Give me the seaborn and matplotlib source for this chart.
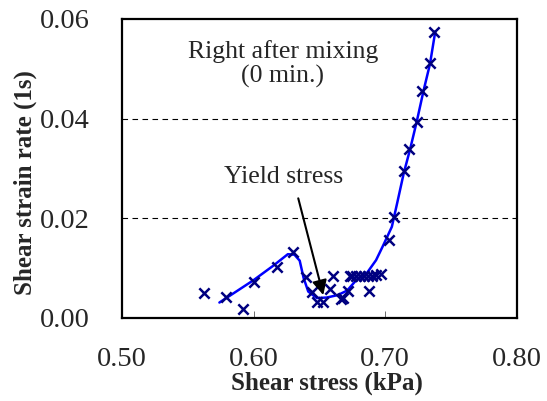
import matplotlib
matplotlib.use('Agg')
import matplotlib.pyplot as plt
import seaborn as sns
import pandas as pd

# measured points (shear stress kPa, shear strain rate 1/s)
stress = [0.562, 0.579, 0.592, 0.600, 0.618, 0.630, 0.640, 0.644, 0.648, 0.653,
          0.658, 0.660, 0.666, 0.668, 0.672, 0.673, 0.675, 0.678, 0.681, 0.684,
          0.687, 0.688, 0.690, 0.693, 0.697, 0.703, 0.707, 0.714, 0.718, 0.724,
          0.728, 0.734, 0.737]
rate = [0.0050, 0.0043, 0.0019, 0.0073, 0.0102, 0.0132, 0.0083, 0.0052, 0.0032, 0.0033,
        0.0058, 0.0085, 0.0038, 0.0040, 0.0054, 0.0085, 0.0085, 0.0085, 0.0085, 0.0085,
        0.0085, 0.0054, 0.0085, 0.0087, 0.0088, 0.0156, 0.0203, 0.0295, 0.0339, 0.0393,
        0.0456, 0.0512, 0.0573]

# fitted curve
fit_x = [0.574, 0.585, 0.600, 0.615, 0.626, 0.631, 0.635, 0.638, 0.6415, 0.648,
         0.6555, 0.664, 0.671, 0.678, 0.686, 0.693, 0.6985, 0.705, 0.709, 0.714,
         0.719, 0.724, 0.729, 0.734, 0.738]
fit_y = [0.0031, 0.0050, 0.0076, 0.0105, 0.0128, 0.0127, 0.0115, 0.0080, 0.0053, 0.0040,
         0.0041, 0.0046, 0.0055, 0.0076, 0.0090, 0.0116, 0.0146, 0.0183, 0.0230, 0.0290,
         0.0340, 0.0395, 0.0455, 0.0510, 0.0575]

pts = pd.DataFrame({'stress': stress, 'rate': rate})
fit = pd.DataFrame({'x': fit_x, 'y': fit_y})

sns.set_theme(style='white')
plt.rcParams['font.family'] = ['Liberation Serif', 'DejaVu Serif']

fig = plt.figure(figsize=(5.47, 4.01), dpi=100)
ax = fig.add_axes([0.223, 0.207, 0.722, 0.746])

for yv in [0.02, 0.04]:
    ax.axhline(yv, color='black', lw=0.8, ls=(0, (5, 4)), zorder=0)

sns.lineplot(data=fit, x='x', y='y', sort=False, estimator=None,
             color='#0000ff', lw=1.8, ax=ax)
sns.scatterplot(data=pts, x='stress', y='rate', marker='x', s=55,
                color='#000080', linewidth=1.8, ax=ax, zorder=3)

ax.set_xlim(0.5, 0.8)
ax.set_ylim(0, 0.06)
ax.set_xticks([0.5, 0.6, 0.7, 0.8])
ax.set_yticks([0.0, 0.02, 0.04, 0.06])
ax.set_xticklabels(['0.50', '0.60', '0.70', '0.80'])
ax.set_yticklabels(['0.00', '0.02', '0.04', '0.06'])
ax.tick_params(axis='x', direction='in', length=5, width=0.6, color='#555555',
               labelsize=20.5, pad=21, bottom=True)
ax.tick_params(axis='y', direction='in', length=0, labelsize=20.5, pad=23, left=False)

for s in ax.spines.values():
    s.set_color('black')
    s.set_linewidth(1.6)

ax.set_xlabel('Shear stress (kPa)', fontsize=18, fontweight='bold')
ax.set_ylabel('Shear strain rate (1s)', fontsize=18, fontweight='bold')
ax.xaxis.set_label_coords(0.52, -0.178)
ax.yaxis.set_label_coords(-0.215, 0.453)

ax.text(0.6223, 0.051, 'Right after mixing\n(0 min.)', ha='center', va='center',
        fontsize=18.5, linespacing=1.1)
ax.text(0.6225, 0.0282, 'Yield stress', ha='center', va='center', fontsize=18.5)
ax.annotate('', xy=(0.6529, 0.0046), xytext=(0.6339, 0.0240),
            arrowprops=dict(arrowstyle='-|>', color='black', lw=1.5,
                            mutation_scale=22, shrinkA=0, shrinkB=0))

fig.savefig('out.png', dpi=100)
